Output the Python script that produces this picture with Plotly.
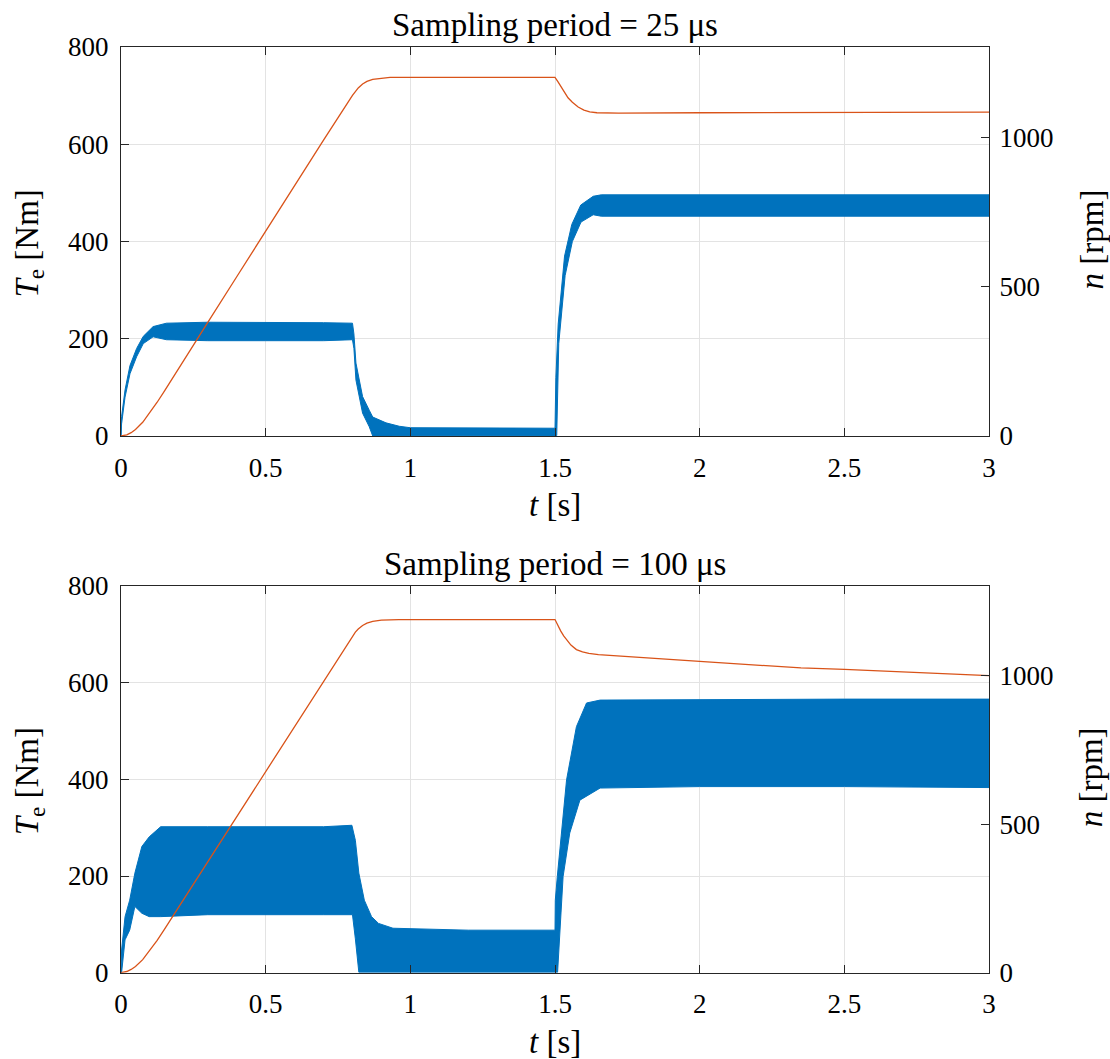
import plotly.graph_objects as go

# ---------------- data ----------------
# Electromagnetic torque envelope (upper / lower edge of the ripple band), Nm
# Sampling period = 25 us
te25_up_t = [0.0, 0.002, 0.014, 0.031, 0.054, 0.077, 0.111, 0.157, 0.3, 0.5, 0.7, 0.8,
             0.805, 0.812, 0.835, 0.858, 0.87, 0.916, 0.962, 1.0, 1.5,
             1.503, 1.511, 1.533, 1.558, 1.589, 1.632, 1.66, 2.0, 2.5, 3.0]
te25_up = [0, 40, 95, 145, 180, 205, 225, 232, 234, 234, 233, 232,
           210, 150, 81, 53, 39, 27, 20, 17, 16,
           120, 230, 370, 435, 475, 493, 496, 496, 496, 496]
te25_lo_t = [0.0, 0.002, 0.014, 0.031, 0.054, 0.077, 0.111, 0.157, 0.3, 0.5, 0.7, 0.8,
             0.805, 0.812, 0.835, 0.858, 0.87, 0.916, 1.0, 1.5,
             1.506, 1.513, 1.535, 1.56, 1.59, 1.632, 1.66, 2.0, 2.5, 3.0]
te25_lo = [0, 25, 80, 128, 163, 190, 204, 198, 196, 196, 196, 198,
           180, 115, 47, 19, 0, 0, 1, 1,
           1, 190, 330, 400, 440, 455, 452, 452, 452, 452]

# Sampling period = 100 us
te100_up_t = [0.0, 0.002, 0.014, 0.03, 0.048, 0.072, 0.0975, 0.137, 0.3, 0.5, 0.7, 0.798,
              0.81, 0.822, 0.841, 0.866, 0.89, 0.94, 1.2, 1.5,
              1.501, 1.508, 1.54, 1.574, 1.609, 1.656, 2.0, 2.5, 3.0]
te100_up = [0, 47, 116, 150, 206, 261, 281, 302, 302, 302, 302, 305,
            274, 206, 150, 116, 102, 92, 88, 88,
            150, 199, 399, 509, 558, 564, 565, 566, 566]
te100_lo_t = [0.0, 0.002, 0.014, 0.03, 0.048, 0.072, 0.0975, 0.137, 0.3, 0.5, 0.7, 0.8,
              0.81, 0.822, 1.0, 1.509,
              1.528, 1.551, 1.586, 1.656, 2.0, 2.5, 3.0]
te100_lo = [0, 0, 68, 88, 137, 123, 116, 116, 120, 120, 120, 120,
            70, 1, 1, 1,
            199, 289, 357, 382, 385, 385, 383]

# Rotor speed, rpm
n25_t = [0.0, 0.02, 0.035, 0.05, 0.075, 0.1, 0.125, 0.15, 0.2, 0.3, 0.4, 0.5, 0.6, 0.7,
         0.8, 0.81, 0.82, 0.835, 0.85, 0.87, 0.9, 0.93, 0.96, 1.5,
         1.51, 1.52, 1.53, 1.545, 1.56, 1.58, 1.6, 1.62, 1.645, 1.67, 1.72, 2.0, 2.5, 3.0]
n25 = [0, 4, 11, 22, 46, 78, 113, 150, 228, 380, 533, 686, 838, 990,
       1140, 1154, 1165, 1178, 1187, 1194, 1198, 1200, 1200, 1200,
       1186, 1171, 1154, 1132, 1117, 1101, 1091, 1085, 1082, 1081, 1081, 1082, 1083, 1084]

n100_t = [0.0, 0.02, 0.035, 0.05, 0.075, 0.1, 0.125, 0.15, 0.2, 0.3, 0.4, 0.5, 0.6, 0.7,
          0.8, 0.81, 0.82, 0.835, 0.85, 0.87, 0.9, 0.93, 0.96, 1.5,
          1.51, 1.52, 1.53, 1.54, 1.555, 1.574, 1.595, 1.617, 1.65, 2.0, 2.35, 2.5, 3.0]
n100 = [0, 4, 11, 21, 44, 75, 109, 146, 222, 374, 526, 680, 830, 982,
        1133, 1147, 1157, 1169, 1177, 1183, 1187, 1189, 1189, 1189,
        1168, 1150, 1134, 1121, 1103, 1088, 1080, 1075, 1071, 1048, 1026, 1021, 1000]

# Axes
x_ticks = [0, 0.5, 1, 1.5, 2, 2.5, 3]
x_tick_text = ["0", "0.5", "1", "1.5", "2", "2.5", "3"]
te_ticks = [0, 200, 400, 600, 800]
te_tick_text = ["0", "200", "400", "600", "800"]
n_ticks = [0, 500, 1000]
n_tick_text = ["0", "500", "1000"]
titles = ["Sampling period = 25 \u03bcs", "Sampling period = 100 \u03bcs"]

# ---------------- styling ----------------
W, H = 1110, 1059
FONT = "'Liberation Serif', 'Times New Roman', Times, serif"
BLUE = "#0072BD"
ORANGE = "#D95319"
AXC = "#262626"
GRID = "#e3e3e3"

X0, X1 = 121, 989
panels = [(47, 436), (586, 972.7)]  # (top px, bottom px)


def px(xp):
    return xp / W


def py(yp):
    return 1 - yp / H


fig = go.Figure()

datasets = [
    (te25_up_t, te25_up, te25_lo_t, te25_lo, n25_t, n25),
    (te100_up_t, te100_up, te100_lo_t, te100_lo, n100_t, n100),
]

annotations = []
for i, (ut, uv, lt, lv, nt, nv) in enumerate(datasets):
    k = 2 * i + 1
    xa = "x" if i == 0 else "x2"
    ya = "y" if k == 1 else f"y{k}"
    yb = f"y{k + 1}"
    # torque ripple band as a closed polygon
    fig.add_trace(go.Scatter(
        x=list(ut) + list(lt)[::-1], y=list(uv) + list(lv)[::-1],
        mode="lines", fill="toself", fillcolor=BLUE,
        line=dict(color=BLUE, width=1), xaxis=xa, yaxis=ya,
        showlegend=False, hoverinfo="skip"))
    # speed
    fig.add_trace(go.Scatter(
        x=nt, y=nv, mode="lines", line=dict(color=ORANGE, width=1.3),
        xaxis=xa, yaxis=yb, showlegend=False))

    top, bot = panels[i]
    dom_y = [py(bot), py(top)]
    xkey = "xaxis" if i == 0 else "xaxis2"
    ykey = "yaxis" if k == 1 else f"yaxis{k}"
    y2key = f"yaxis{k + 1}"
    fig.layout[xkey] = dict(
        domain=[px(X0), px(X1)], range=[0, 3], anchor=ya,
        tickmode="array", tickvals=x_ticks, ticktext=x_tick_text, ticks="inside", ticklen=8,
        tickcolor=AXC, showline=True, linecolor=AXC, linewidth=1.2, mirror="ticks",
        showgrid=True, gridcolor=GRID, gridwidth=1, zeroline=False,
        automargin=False, ticklabelstandoff=7)
    fig.layout[ykey] = dict(
        domain=dom_y, range=[0, 800], anchor=xa,
        tickmode="array", tickvals=te_ticks, ticktext=te_tick_text,
        ticks="inside", ticklen=8, tickcolor=AXC, showline=True, linecolor=AXC,
        linewidth=1.2, showgrid=True, gridcolor=GRID, gridwidth=1, zeroline=False,
        automargin=False, ticklabelstandoff=6)
    fig.layout[y2key] = dict(
        range=[0, 1302], overlaying=ya, side="right", anchor=xa,
        tickmode="array", tickvals=n_ticks, ticktext=n_tick_text,
        ticks="inside", ticklen=8, tickcolor=AXC, showline=True, linecolor=AXC,
        linewidth=1.2, showgrid=False, zeroline=False,
        automargin=False, ticklabelstandoff=4)

    mid = (top + bot) / 2
    lf = dict(family=FONT, size=33, color="black")
    annotations += [
        dict(text=titles[i], x=px((X0 + X1) / 2), y=py(top - 22), xref="paper", yref="paper",
             showarrow=False, xanchor="center", yanchor="middle", font=lf),
        dict(text="<i>t</i> [s]", x=px((X0 + X1) / 2), y=py(bot + 69), xref="paper", yref="paper",
             showarrow=False, xanchor="center", yanchor="middle", font=lf),
        dict(text="<i>T</i><sub>e</sub> [Nm]", x=px(29), y=py(mid + 2), xref="paper", yref="paper",
             showarrow=False, xanchor="center", yanchor="middle", textangle=-90, font=lf),
        dict(text="<i>n</i> [rpm]", x=px(1091), y=py(mid - 2), xref="paper", yref="paper",
             showarrow=False, xanchor="center", yanchor="middle", textangle=-90, font=lf),
    ]

fig.update_layout(
    width=W, height=H, margin=dict(l=0, r=0, t=0, b=0),
    font=dict(family=FONT, size=27, color="black"),
    paper_bgcolor="white", plot_bgcolor="white",
    annotations=annotations, showlegend=False,
)
fig.update_xaxes(tickfont=dict(family=FONT, size=27, color="black"))
fig.update_yaxes(tickfont=dict(family=FONT, size=27, color="black"))

fig.write_html("out.html")
